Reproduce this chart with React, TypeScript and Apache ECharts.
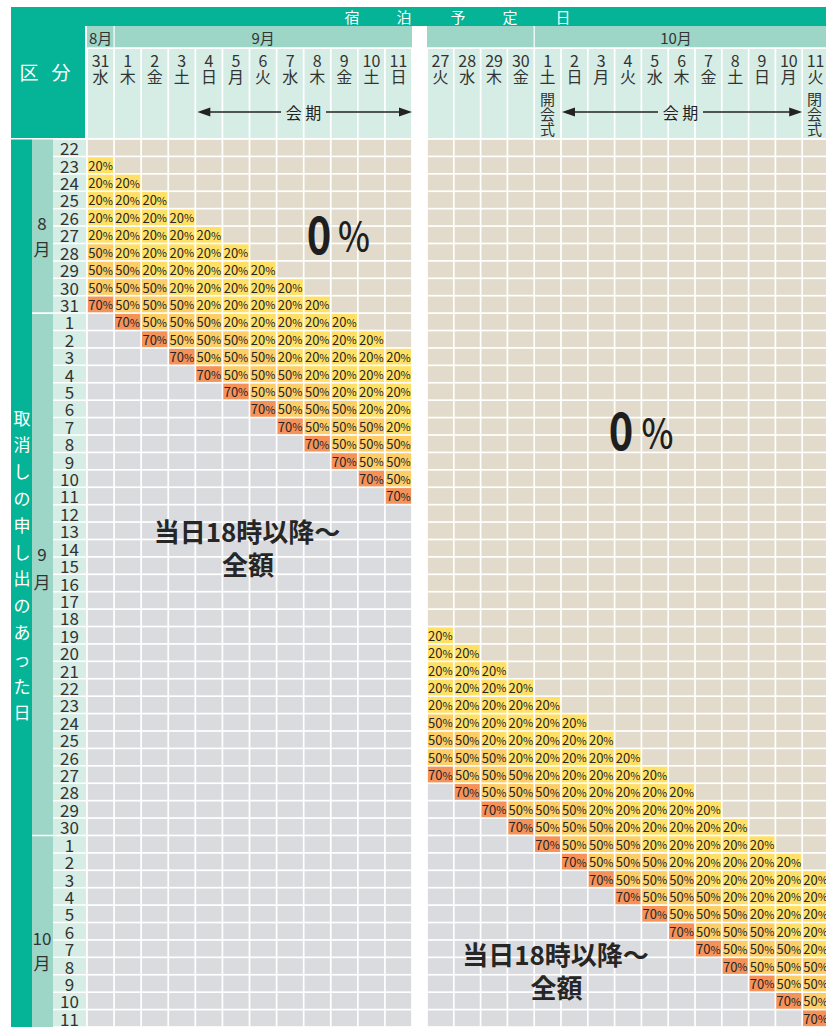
import React, { useEffect, useRef } from "react";
import * as echarts from "echarts";

const FONT = '"Noto Sans CJK JP", "Noto Sans", sans-serif';

// ---- data ----
const stayDaysLeft = ["31", "1", "2", "3", "4", "5", "6", "7", "8", "9", "10", "11"];
const stayWeekLeft = ["水", "木", "金", "土", "日", "月", "火", "水", "木", "金", "土", "日"];
const stayDaysRight = ["27", "28", "29", "30", "1", "2", "3", "4", "5", "6", "7", "8", "9", "10", "11"];
const stayWeekRight = ["火", "水", "木", "金", "土", "日", "月", "火", "水", "木", "金", "土", "日", "月", "火"];

const cancelDays = [
  "22", "23", "24", "25", "26", "27", "28", "29", "30", "31",
  "1", "2", "3", "4", "5", "6", "7", "8", "9", "10",
  "11", "12", "13", "14", "15", "16", "17", "18", "19", "20",
  "21", "22", "23", "24", "25", "26", "27", "28", "29", "30",
  "1", "2", "3", "4", "5", "6", "7", "8", "9", "10", "11",
];

// o = 0%, 2 = 20%, 5 = 50%, 7 = 70%, x = 当日18時以降～全額
const leftCells = [
  "oooooooooooo",
  "2ooooooooooo",
  "22oooooooooo",
  "222ooooooooo",
  "2222oooooooo",
  "22222ooooooo",
  "522222oooooo",
  "5522222ooooo",
  "55522222oooo",
  "755522222ooo",
  "x755522222oo",
  "xx755522222o",
  "xxx755522222",
  "xxxx75552222",
  "xxxxx7555222",
  "xxxxxx755522",
  "xxxxxxx75552",
  "xxxxxxxx7555",
  "xxxxxxxxx755",
  "xxxxxxxxxx75",
  "xxxxxxxxxxx7",
  "xxxxxxxxxxxx",
  "xxxxxxxxxxxx",
  "xxxxxxxxxxxx",
  "xxxxxxxxxxxx",
  "xxxxxxxxxxxx",
  "xxxxxxxxxxxx",
  "xxxxxxxxxxxx",
  "xxxxxxxxxxxx",
  "xxxxxxxxxxxx",
  "xxxxxxxxxxxx",
  "xxxxxxxxxxxx",
  "xxxxxxxxxxxx",
  "xxxxxxxxxxxx",
  "xxxxxxxxxxxx",
  "xxxxxxxxxxxx",
  "xxxxxxxxxxxx",
  "xxxxxxxxxxxx",
  "xxxxxxxxxxxx",
  "xxxxxxxxxxxx",
  "xxxxxxxxxxxx",
  "xxxxxxxxxxxx",
  "xxxxxxxxxxxx",
  "xxxxxxxxxxxx",
  "xxxxxxxxxxxx",
  "xxxxxxxxxxxx",
  "xxxxxxxxxxxx",
  "xxxxxxxxxxxx",
  "xxxxxxxxxxxx",
  "xxxxxxxxxxxx",
  "xxxxxxxxxxxx",
];

const rightCells = [
  "ooooooooooooooo",
  "ooooooooooooooo",
  "ooooooooooooooo",
  "ooooooooooooooo",
  "ooooooooooooooo",
  "ooooooooooooooo",
  "ooooooooooooooo",
  "ooooooooooooooo",
  "ooooooooooooooo",
  "ooooooooooooooo",
  "ooooooooooooooo",
  "ooooooooooooooo",
  "ooooooooooooooo",
  "ooooooooooooooo",
  "ooooooooooooooo",
  "ooooooooooooooo",
  "ooooooooooooooo",
  "ooooooooooooooo",
  "ooooooooooooooo",
  "ooooooooooooooo",
  "ooooooooooooooo",
  "ooooooooooooooo",
  "ooooooooooooooo",
  "ooooooooooooooo",
  "ooooooooooooooo",
  "ooooooooooooooo",
  "ooooooooooooooo",
  "ooooooooooooooo",
  "2oooooooooooooo",
  "22ooooooooooooo",
  "222oooooooooooo",
  "2222ooooooooooo",
  "22222oooooooooo",
  "522222ooooooooo",
  "5522222oooooooo",
  "55522222ooooooo",
  "755522222oooooo",
  "x755522222ooooo",
  "xx755522222oooo",
  "xxx755522222ooo",
  "xxxx755522222oo",
  "xxxxx755522222o",
  "xxxxxx755522222",
  "xxxxxxx75552222",
  "xxxxxxxx7555222",
  "xxxxxxxxx755522",
  "xxxxxxxxxx75552",
  "xxxxxxxxxxx7555",
  "xxxxxxxxxxxx755",
  "xxxxxxxxxxxxx75",
  "xxxxxxxxxxxxxx7",
];

const codeRate: Record<string, number> = { o: 0, "2": 20, "5": 50, "7": 70, x: 100 };

// ---- styling ----
const C = {
  dark: "#05b396",
  mid: "#9dd5c6",
  light: "#d6ede5",
  text: "#262626",
};
const rateColor: Record<number, string> = {
  0: "#e2dbcb",
  20: "#ffe066",
  50: "#fdcd68",
  70: "#f5925a",
  100: "#dadbde",
};

const ROW_TOP = 139;
const BODY_H = 888;
const ROW_H = BODY_H / cancelDays.length;
const L_LEFT = 87;
const L_W = 325;
const R_LEFT = 427;
const R_W = 402;
const COL_L = L_W / stayDaysLeft.length;
const COL_R = R_W / stayDaysRight.length;
const rowB = (r: number) => ROW_TOP + r * ROW_H;

function buildCells(rows: string[]) {
  const out: number[][] = [];
  rows.forEach((row, r) => row.split("").forEach((ch, c) => out.push([c, r, codeRate[ch]])));
  return out;
}

const renderBody = (_p: any, api: any) => {
  const v = api.value(2) as number;
  const c = api.coord([api.value(0), api.value(1)]);
  const s = api.size([1, 1]);
  const g = 0.85;
  const el: any = {
    type: "rect",
    shape: { x: c[0] - s[0] / 2 + g, y: c[1] - s[1] / 2 + g, width: s[0] - 2 * g, height: s[1] - 2 * g },
    style: { fill: rateColor[v] },
  };
  if (v > 0 && v < 100) {
    el.textContent = {
      style: {
        text: `{d|${v}}{p|%}`,
        rich: {
          d: { font: `13px ${FONT}`, fill: C.text },
          p: { font: `11px ${FONT}`, fill: C.text },
        },
      },
    };
    el.textConfig = { position: "inside" };
  }
  return el;
};

const makeHeader = (days: string[], weeks: string[]) => (_p: any, api: any) => {
  const i = api.value(0) as number;
  const c = api.coord([i, 0]);
  const s = api.size([1, 1]);
  return {
    type: "rect",
    shape: { x: c[0] - s[0] / 2 + 0.85, y: c[1] - s[1] / 2 + 1, width: s[0] - 1.7, height: s[1] - 2 },
    style: { fill: C.light },
    textContent: {
      style: { text: days[i] + "\n" + weeks[i], font: `16px ${FONT}`, fill: "#333", lineHeight: 16, align: "center" },
    },
    textConfig: { position: "insideTop", distance: 3 },
  };
};

const renderDayCol = (_p: any, api: any) => {
  const r = api.value(1) as number;
  const c = api.coord([0, r]);
  const s = api.size([1, 1]);
  return {
    type: "rect",
    shape: { x: c[0] - s[0] / 2, y: c[1] - s[1] / 2 + 0.75, width: s[0] - 1, height: s[1] - 1.5 },
    style: { fill: C.light },
    textContent: { style: { text: cancelDays[r], font: `17px ${FONT}`, fill: "#333" } },
    textConfig: { position: "inside" },
  };
};

const T = (text: string, x: number, y: number, font: string, color: string, extra: any = {}) => ({
  type: "text",
  x,
  y,
  z: 100,
  ...extra,
  style: {
    text,
    font,
    fill: color,
    textFill: color,
    align: "center",
    verticalAlign: "middle",
    textAlign: "center",
    textVerticalAlign: "middle",
  },
});

const R = (x: number, y: number, w: number, h: number, fill: string) => ({
  type: "rect",
  z: 1,
  shape: { x, y, width: w, height: h },
  style: { fill },
});

const arrow = (x1: number, x2: number, gapL: number, gapR: number, y: number) => {
  const len = 13;
  const hh = 4.5;
  const st = { stroke: "#222", lineWidth: 1.4 };
  return [
    { type: "line", z: 100, shape: { x1: x1 + len - 1, y1: y, x2: gapL, y2: y }, style: st },
    { type: "line", z: 100, shape: { x1: gapR, y1: y, x2: x2 - len + 1, y2: y }, style: st },
    { type: "polygon", z: 100, shape: { points: [[x1, y], [x1 + len, y - hh], [x1 + len, y + hh]] }, style: { fill: "#222" } },
    { type: "polygon", z: 100, shape: { points: [[x2, y], [x2 - len, y - hh], [x2 - len, y + hh]] }, style: { fill: "#222" } },
  ];
};

function buildOption() {
  const cancelKeys = cancelDays.map((d, i) => `${i}-${d}`);
  const gridBase = { outerBoundsMode: "none", containLabel: false, show: false };
  const titleChars = "宿泊予定日".split("");
  const titleX = [352, 404, 458, 510, 563];
  const vChars = "取消しの申し出のあった日".split("");

  const graphic: any[] = [
    R(11, 7, 815, 19, C.dark),
    R(11, 26, 74, 112, C.dark),
    R(11, 139.6, 21, 1027 - 139.6, C.dark),
    R(32, 139.6, 21, rowB(10) - 0.8 - 139.6, C.mid),
    R(32, rowB(10) + 0.8, 21, rowB(40) - rowB(10) - 1.6, C.mid),
    R(32, rowB(40) + 0.8, 21, 1027 - rowB(40) - 0.8, C.mid),
    // month row
    R(L_LEFT, 26, COL_L - 0.6, 21.3, C.mid),
    R(L_LEFT + COL_L + 0.6, 26, L_W - COL_L - 0.6, 21.3, C.mid),
    R(R_LEFT, 26, 4 * COL_R - 0.6, 21.3, C.mid),
    R(R_LEFT + 4 * COL_R + 0.6, 26, 826 - (R_LEFT + 4 * COL_R + 0.6), 21.3, C.mid),
    T("8月", L_LEFT + COL_L / 2, 37, `15px ${FONT}`, "#333"),
    T("9月", L_LEFT + COL_L + (L_W - COL_L) / 2, 37, `15px ${FONT}`, "#333"),
    T("10月", 676, 37, `15px ${FONT}`, "#333"),
    // title
    ...titleChars.map((ch, i) => T(ch, titleX[i], 16.5, `15px ${FONT}`, "#fff")),
    T("区", 29, 71, `19px ${FONT}`, "#fff"),
    T("分", 61, 71, `19px ${FONT}`, "#fff"),
    ...vChars.map((ch, i) => T(ch, 22, 417 + i * 26.8, `17px ${FONT}`, "#fff")),
    // month labels
    T("8", 42, 222, `17px ${FONT}`, "#333"),
    T("月", 42, 248, `17px ${FONT}`, "#333"),
    T("9", 42, 553, `17px ${FONT}`, "#333"),
    T("月", 42, 581, `17px ${FONT}`, "#333"),
    T("10", 42, 937, `17px ${FONT}`, "#333"),
    T("月", 42, 962, `17px ${FONT}`, "#333"),
    // 会期
    ...arrow(L_LEFT + 4 * COL_L + 2, L_LEFT + L_W, 281, 326, 112),
    T("会 期", 303.5, 112, `16px ${FONT}`, "#222"),
    ...arrow(R_LEFT + 5 * COL_R + 1, R_LEFT + 14 * COL_R, 658, 703, 112),
    T("会 期", 680.5, 112, `16px ${FONT}`, "#222"),
    ...["開", "会", "式"].map((ch, i) => T(ch, R_LEFT + 4.5 * COL_R, 98 + i * 15, `15px ${FONT}`, "#333")),
    ...["閉", "会", "式"].map((ch, i) => T(ch, R_LEFT + 14.5 * COL_R - 1, 98 + i * 15, `15px ${FONT}`, "#333")),
    // overlays
    T("0", 319, 231, `bold 52px ${FONT}`, "#1e1e1e", { scaleX: 0.8 }),
    T("%", 354, 234, `500 40px ${FONT}`, "#1e1e1e", { scaleX: 0.85 }),
    T("0", 621, 427.5, `bold 52px ${FONT}`, "#1e1e1e", { scaleX: 0.8 }),
    T("%", 657.5, 431, `500 40px ${FONT}`, "#1e1e1e", { scaleX: 0.85 }),
    T("当日18時以降～", 247, 530, `bold 26px ${FONT}`, "#262626"),
    T("全額", 248, 563.5, `bold 26px ${FONT}`, "#262626"),
    T("当日18時以降～", 555.5, 953, `bold 26px ${FONT}`, "#262626"),
    T("全額", 556.5, 986, `bold 26px ${FONT}`, "#262626"),
  ];

  return {
    animation: false,
    backgroundColor: "#ffffff",
    grid: [
      { ...gridBase, left: L_LEFT, top: ROW_TOP, width: L_W, height: BODY_H },
      { ...gridBase, left: R_LEFT, top: ROW_TOP, width: R_W, height: BODY_H },
      { ...gridBase, left: L_LEFT, top: 48, width: L_W, height: 91 },
      { ...gridBase, left: R_LEFT, top: 48, width: R_W, height: 91 },
      { ...gridBase, left: 53, top: ROW_TOP, width: 34, height: BODY_H },
    ],
    xAxis: [
      { gridIndex: 0, type: "category", data: stayDaysLeft, show: false },
      { gridIndex: 1, type: "category", data: stayDaysRight, show: false },
      { gridIndex: 2, type: "category", data: stayDaysLeft, show: false },
      { gridIndex: 3, type: "category", data: stayDaysRight, show: false },
      { gridIndex: 4, type: "category", data: ["day"], show: false },
    ],
    yAxis: [
      { gridIndex: 0, type: "category", data: cancelKeys, inverse: true, show: false },
      { gridIndex: 1, type: "category", data: cancelKeys, inverse: true, show: false },
      { gridIndex: 2, type: "category", data: ["h"], show: false },
      { gridIndex: 3, type: "category", data: ["h"], show: false },
      { gridIndex: 4, type: "category", data: cancelKeys, inverse: true, show: false },
    ],
    series: [
      { type: "custom", xAxisIndex: 0, yAxisIndex: 0, silent: true, data: buildCells(leftCells), renderItem: renderBody },
      { type: "custom", xAxisIndex: 1, yAxisIndex: 1, silent: true, data: buildCells(rightCells), renderItem: renderBody },
      { type: "custom", xAxisIndex: 2, yAxisIndex: 2, silent: true, data: stayDaysLeft.map((_, i) => [i, 0]), renderItem: makeHeader(stayDaysLeft, stayWeekLeft) },
      { type: "custom", xAxisIndex: 3, yAxisIndex: 3, silent: true, data: stayDaysRight.map((_, i) => [i, 0]), renderItem: makeHeader(stayDaysRight, stayWeekRight) },
      { type: "custom", xAxisIndex: 4, yAxisIndex: 4, silent: true, data: cancelDays.map((_, i) => [0, i]), renderItem: renderDayCol },
    ],
    graphic: { elements: graphic },
  };
}

export default function App() {
  const ref = useRef<HTMLDivElement>(null);
  useEffect(() => {
    if (!ref.current) return;
    const chart = echarts.init(ref.current, null, { renderer: "svg", width: 826, height: 1027 });
    chart.setOption(buildOption() as any);
    return () => chart.dispose();
  }, []);
  return (
    <div
      ref={ref}
      style={{ position: "fixed", left: 0, top: 0, width: 826, height: 1027, background: "#fff" }}
    />
  );
}
